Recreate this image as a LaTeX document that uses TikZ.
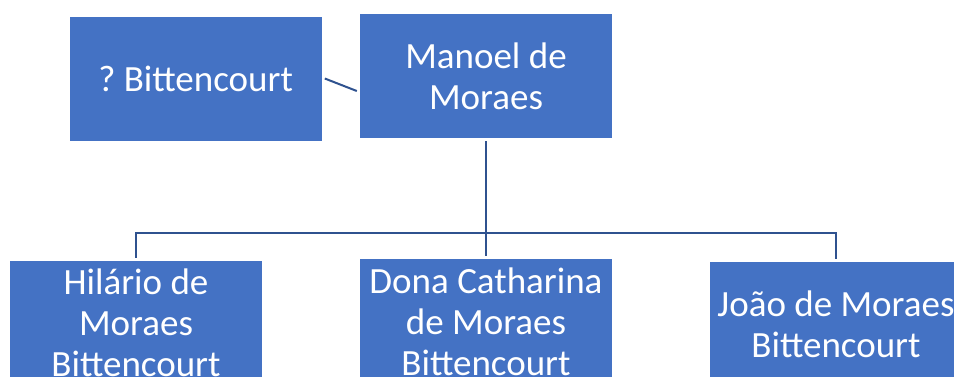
\documentclass[tikz,border=0pt]{standalone}
\usepackage{fontspec}
\setmainfont{Carlito}
\usetikzlibrary{positioning}
\definecolor{boxblue}{HTML}{4472C4}
\definecolor{lineblue}{HTML}{2F528F}
\begin{document}
\begin{tikzpicture}[x=1pt,y=-1pt,node distance=98pt,
    person node/.style={rectangle,fill=boxblue,text=white,minimum width=252pt,minimum height=124pt,inner sep=1pt,align=center,font=\fontsize{37}{41}\selectfont},
    tree line/.style={draw=lineblue,line width=2pt}]
    \clip (0,0) rectangle (954,376);

    \node[person node] (manoel) at (486,76) {Manoel de\\Moraes};
    \node[person node] (bitt) [left=38pt of manoel,yshift=-2.5pt] {?\ Bittencourt};
    \node[person node] (dona) [below=121pt of manoel] {Dona Catharina\\de Moraes\\Bittencourt};
    \node[person node] (hilario) [left of=dona,xshift=-252pt,yshift=-1.5pt] {Hil\'ario de\\Moraes\\Bittencourt};
    \node[person node] (joao) [right of=dona,xshift=252pt,yshift=-2.5pt] {Jo\~ao de Moraes\\Bittencourt};
    \coordinate (fork) at (486,233);

    \path[tree line]
        ([xshift=3pt]bitt.east) edge ([shift={(-3pt,-15pt)}]manoel.west)
        ([yshift=-3pt]manoel.south) edge (fork)
        (fork) edge ([yshift=3pt]dona.north);
    \draw[tree line] ([yshift=3pt]hilario.north) |- (fork) -| ([yshift=3pt]joao.north);

\end{tikzpicture}
\end{document}
